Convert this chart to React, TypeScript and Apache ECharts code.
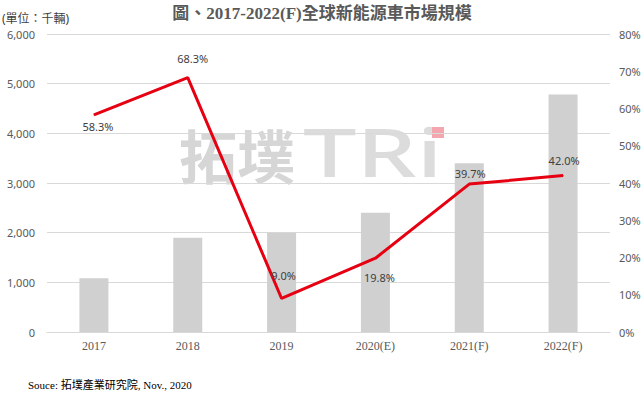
import React, { useEffect, useRef } from "react";
import * as echarts from "echarts";

const categories = ["2017", "2018", "2019", "2020(E)", "2021(F)", "2022(F)"];
const marketSize = [1080, 1900, 2000, 2400, 3400, 4780];
const growthRate = [58.3, 68.3, 9.0, 19.8, 39.7, 42.0];
const leftTicks = { min: 0, max: 6000, interval: 1000 };
const rightTicks = { min: 0, max: 80, interval: 10 };
const labelPlacement: { pos: "top" | "bottom"; dist: number; dx: number }[] = [
  { pos: "bottom", dist: 6, dx: 4 },
  { pos: "top", dist: 13, dx: 5 },
  { pos: "top", dist: 17, dx: 2 },
  { pos: "bottom", dist: 13, dx: 4 },
  { pos: "top", dist: 5, dx: 1 },
  { pos: "top", dist: 9, dx: 1 },
];

const TITLE = "圖、2017-2022(F)全球新能源車市場規模";
const UNIT = "(單位：千輛)";
const SOURCE = "Souce: 拓墣產業研究院, Nov., 2020";

const SERIF = "'Liberation Serif', 'Noto Sans CJK TC', serif";
const SANS = "'Noto Sans', 'Noto Sans CJK TC', sans-serif";

export default function App() {
  const ref = useRef<HTMLDivElement>(null);
  useEffect(() => {
    if (!ref.current) return;
    const chart = echarts.init(ref.current, null, { renderer: "svg" });
    chart.setOption({
      animation: false,
      backgroundColor: "#ffffff",
      grid: { left: 47, right: 34, top: 34, bottom: 63 },
      xAxis: {
        type: "category",
        data: categories,
        axisLine: { show: true, lineStyle: { color: "#d9d9d9" } },
        axisTick: { show: false },
        axisLabel: { color: "#595959", fontFamily: SERIF, fontSize: 12, margin: 8 },
      },
      yAxis: [
        {
          type: "value",
          min: leftTicks.min,
          max: leftTicks.max,
          interval: leftTicks.interval,
          axisLine: { show: false },
          axisTick: { show: false },
          splitLine: { lineStyle: { color: "#d9d9d9" } },
          axisLabel: {
            color: "#595959",
            fontFamily: SANS,
            fontSize: 11,
            margin: 12,
            formatter: (v: number) => v.toLocaleString("en-US"),
          },
        },
        {
          type: "value",
          min: rightTicks.min,
          max: rightTicks.max,
          interval: rightTicks.interval,
          axisLine: { show: false },
          axisTick: { show: false },
          splitLine: { show: false },
          axisLabel: {
            color: "#595959",
            fontFamily: SANS,
            fontSize: 11,
            margin: 9,
            formatter: (v: number) => v + "%",
          },
        },
      ],
      graphic: [
        {
          type: "text",
          left: "center",
          top: 5,
          style: { text: TITLE, font: `bold 17px ${SERIF}`, fill: "#595959" },
        },
        {
          type: "text",
          left: 2,
          top: 12,
          style: { text: UNIT, font: `12px ${SANS}`, fill: "#404040" },
        },
        {
          type: "text",
          left: 28,
          top: 379,
          style: { text: SOURCE, font: `11px ${SERIF}`, fill: "#000000" },
        },
        {
          type: "group",
          z: 1,
          children: [
            {
              type: "text",
              x: 179,
              y: 125,
              style: { text: "拓墣", font: `bold 58px 'Noto Sans CJK TC', sans-serif`, fill: "#d6d6d6" },
            },
            {
              type: "text",
              x: 303,
              y: 117,
              scaleX: 1.4,
              style: { text: "TRi", font: `500 68px 'Noto Sans', sans-serif`, fill: "#dcdcdc" },
            },
            {
              type: "rect",
              shape: { x: 432, y: 127, width: 12, height: 11 },
              style: { fill: "#f4a6ae" },
            },
          ],
        },
      ],
      series: [
        {
          type: "bar",
          data: marketSize,
          barWidth: 29,
          itemStyle: { color: "#d0d0d0" },
          z: 2,
        },
        {
          type: "line",
          yAxisIndex: 1,
          data: growthRate.map((v, i) => ({
            value: v,
            label: {
              position: labelPlacement[i].pos,
              distance: labelPlacement[i].dist,
              offset: [labelPlacement[i].dx, 0],
            },
          })),
          symbol: "circle",
          symbolSize: 1,
          showSymbol: true,
          itemStyle: { color: "#e60012" },
          lineStyle: { color: "#e60012", width: 3 },
          label: {
            show: true,
            color: "#404040",
            fontFamily: SANS,
            fontSize: 11,
            formatter: (p: any) => Number(p.value).toFixed(1) + "%",
          },
          z: 3,
        },
      ],
    });
    return () => chart.dispose();
  }, []);
  return <div ref={ref} style={{ width: 644, height: 395, position: "fixed", left: 0, top: 0 }} />;
}
